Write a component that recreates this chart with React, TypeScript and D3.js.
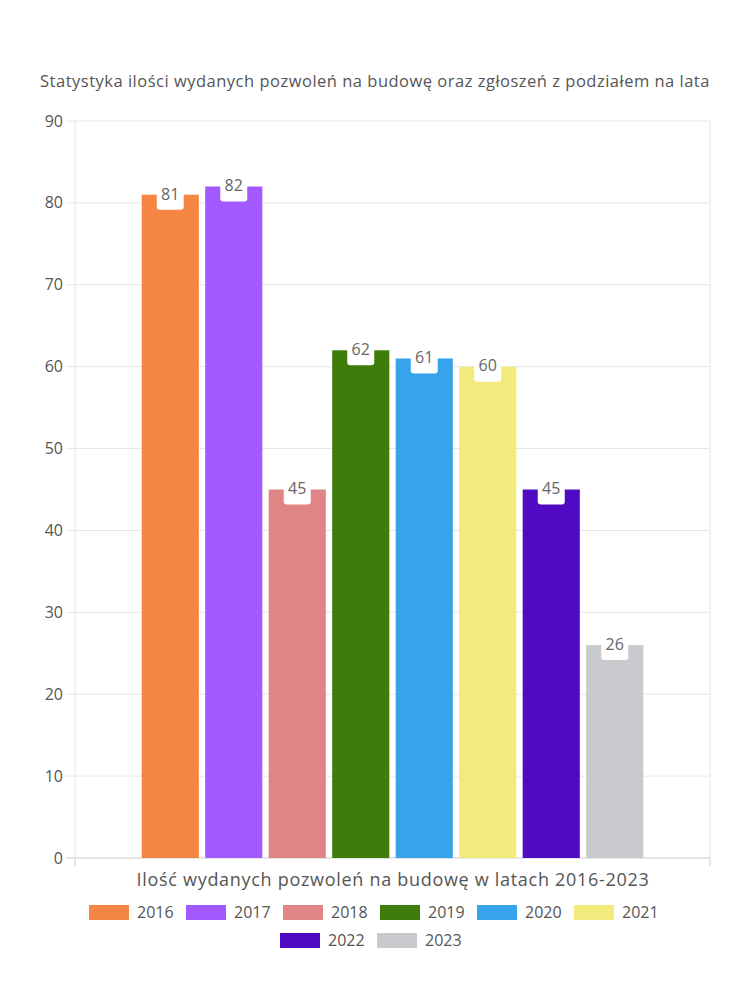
import React from "react";
import * as d3 from "d3";

const years = ["2016", "2017", "2018", "2019", "2020", "2021", "2022", "2023"];
const values = [81, 82, 45, 62, 61, 60, 45, 26];
const colors = ["#F48542", "#A259FF", "#E08585", "#3E7D0B", "#37A3EB", "#F0EB7C", "#510AC4", "#C9CACE"];
const yTicks = [0, 10, 20, 30, 40, 50, 60, 70, 80, 90];
const title = "Statystyka ilości wydanych pozwoleń na budowę oraz zgłoszeń z podziałem na lata";
const xTitle = "Ilość wydanych pozwoleń na budowę w latach 2016-2023";
const category = [""];

const W = 750, H = 1000;
const left = 75, right = 710, top = 121, bottom = 858;
const FONT = "'Open Sans', 'Noto Sans', sans-serif";

export default function App() {
  const y = d3.scaleLinear().domain([0, 90]).range([bottom, top]);
  const outer = d3.scaleBand().domain(category).range([left, right]).paddingInner(0).paddingOuter(0.125);
  const inner = d3.scaleBand().domain(years).range([0, outer.bandwidth()]).paddingInner(0.1).paddingOuter(0.05);
  const x0 = outer("")!;

  const legendRows = [years.slice(0, 6), years.slice(6)];
  const rowStart = [89, 280];
  const rowY = [912, 940];
  const itemW = 97;

  return (
    <div style={{ margin: -8 }}>
      <svg width={W} height={H} style={{ display: "block", background: "#fff" }} fontFamily={FONT}>
        <text x={375} y={87} textAnchor="middle" fontSize={16.5} letterSpacing={0.5} fill="#555">{title}</text>
        {yTicks.map((t) => (
          <g key={t}>
            <line x1={66} x2={right} y1={y(t)} y2={y(t)} stroke={t === 0 ? "#ccc" : "#e6e6e6"} strokeWidth={1} />
            <text x={63} y={y(t)} dy="0.35em" textAnchor="end" fontSize={16} fill="#555">{t}</text>
          </g>
        ))}
        <line x1={left} x2={left} y1={top} y2={bottom} stroke="#e6e6e6" />
        <line x1={right} x2={right} y1={top} y2={bottom} stroke="#e6e6e6" />
        <line x1={left} x2={left} y1={bottom} y2={bottom + 8} stroke="#ccc" />
        <line x1={right} x2={right} y1={bottom} y2={bottom + 8} stroke="#ccc" />
        {years.map((yr, i) => {
          const bx = x0 + inner(yr)!;
          const bw = inner.bandwidth();
          const by = y(values[i]);
          const cx = bx + bw / 2;
          return (
            <g key={yr}>
              <rect x={bx} y={by} width={bw} height={bottom - by} fill={colors[i]} />
              <rect x={cx - 13.5} y={by - 12} width={27} height={27} rx={3} fill="#fff" />
              <text x={cx} y={by} dy="0.3em" textAnchor="middle" fontSize={16} fill="#666">{values[i]}</text>
            </g>
          );
        })}
        <text x={393} y={886} textAnchor="middle" fontSize={18} letterSpacing={0.7} fill="#555">{xTitle}</text>
        {legendRows.map((row, r) =>
          row.map((yr, j) => {
            const i = years.indexOf(yr);
            const lx = rowStart[r] + j * itemW;
            const ly = rowY[r];
            return (
              <g key={yr}>
                <rect x={lx} y={ly - 7} width={40} height={15} fill={colors[i]} />
                <text x={lx + 48} y={ly} dy="0.35em" fontSize={16} fill="#555">{yr}</text>
              </g>
            );
          })
        )}
      </svg>
    </div>
  );
}
